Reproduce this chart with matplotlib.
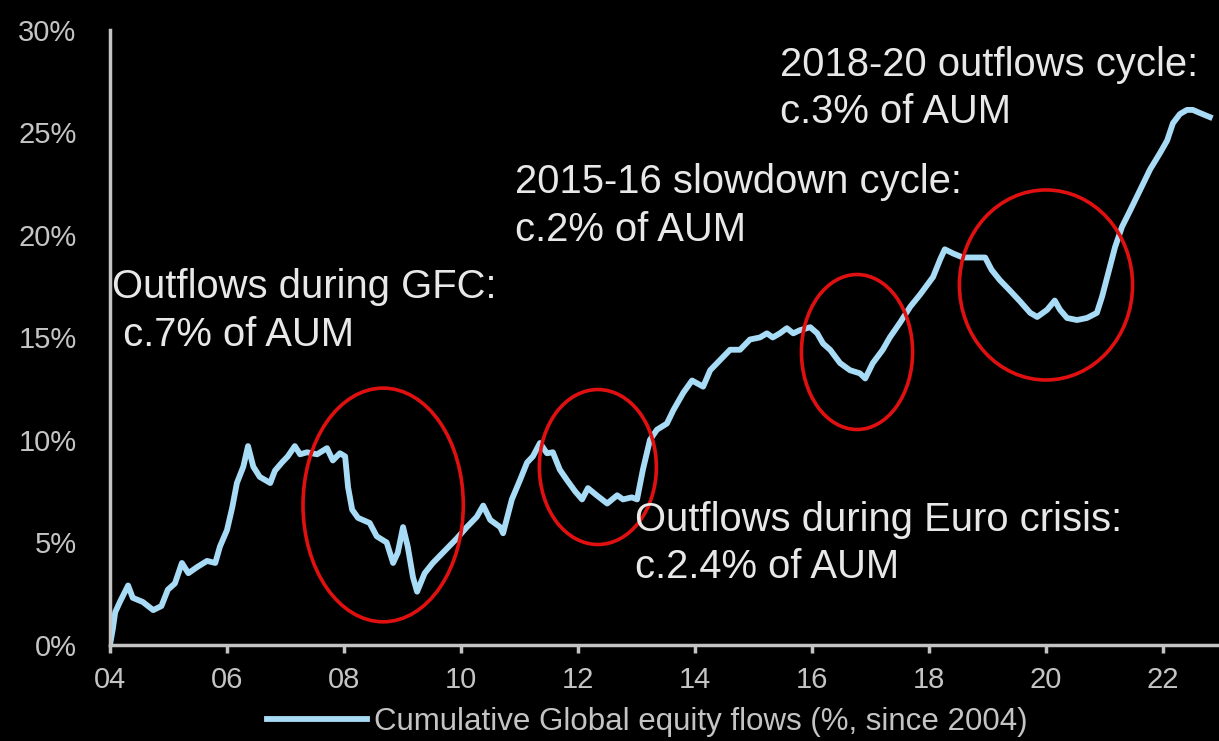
import matplotlib.pyplot as plt
from matplotlib.patches import Ellipse

# cumulative global equity flows, % of AUM since 2004
years = [2004.00, 2004.05, 2004.09, 2004.17, 2004.31, 2004.39, 2004.56, 2004.74, 2004.88, 2004.99,
         2005.11, 2005.23, 2005.34, 2005.49, 2005.66, 2005.80, 2005.88, 2006.00, 2006.09, 2006.17,
         2006.28, 2006.36, 2006.45, 2006.56, 2006.74, 2006.82, 2006.94, 2007.04, 2007.16, 2007.25,
         2007.37, 2007.54, 2007.71, 2007.81, 2007.93, 2008.02, 2008.07, 2008.14, 2008.24, 2008.44,
         2008.56, 2008.73, 2008.84, 2008.92, 2009.01, 2009.09, 2009.18, 2009.25, 2009.38, 2009.52,
         2009.69, 2009.93, 2010.10, 2010.27, 2010.38, 2010.50, 2010.67, 2010.72, 2010.87, 2011.01,
         2011.13, 2011.23, 2011.35, 2011.47, 2011.57, 2011.69, 2011.81, 2011.95, 2012.07, 2012.17,
         2012.32, 2012.50, 2012.67, 2012.77, 2012.92, 2013.01, 2013.11, 2013.23, 2013.35, 2013.52,
         2013.63, 2013.80, 2013.95, 2014.14, 2014.26, 2014.43, 2014.60, 2014.77, 2014.94, 2015.11,
         2015.23, 2015.33, 2015.45, 2015.57, 2015.68, 2015.79, 2015.97, 2016.09, 2016.19, 2016.31,
         2016.48, 2016.65, 2016.82, 2016.91, 2017.04, 2017.21, 2017.33, 2017.50, 2017.68, 2017.85,
         2018.07, 2018.19, 2018.27, 2018.41, 2018.58, 2018.75, 2018.96, 2019.07, 2019.21, 2019.38,
         2019.56, 2019.73, 2019.85, 2020.02, 2020.15, 2020.24, 2020.36, 2020.53, 2020.70, 2020.87,
         2020.96, 2021.06, 2021.18, 2021.30, 2021.44, 2021.61, 2021.78, 2021.95, 2022.07, 2022.17,
         2022.29, 2022.41, 2022.51, 2022.63, 2022.80]
flows = [0.0, 0.8, 1.6, 2.1, 2.9, 2.3, 2.1, 1.7, 1.9, 2.7,
         3.0, 4.0, 3.5, 3.8, 4.1, 4.0, 4.8, 5.6, 6.7, 7.9,
         8.7, 9.7, 8.7, 8.2, 7.9, 8.5, 8.9, 9.2, 9.7, 9.3,
         9.4, 9.3, 9.6, 9.0, 9.35, 9.2, 7.7, 6.6, 6.2, 5.95,
         5.3, 5.0, 4.0, 4.5, 5.75, 4.8, 3.3, 2.6, 3.5, 4.0,
         4.5, 5.2, 5.75, 6.25, 6.8, 6.1, 5.75, 5.45, 7.1, 8.05,
         8.9, 9.2, 9.85, 9.35, 9.4, 8.55, 8.05, 7.5, 7.1, 7.65,
         7.3, 6.9, 7.3, 7.1, 7.2, 7.1, 8.55, 10.0, 10.5, 10.8,
         11.45, 12.3, 12.9, 12.6, 13.4, 13.9, 14.4, 14.4, 14.9, 15.0,
         15.2, 15.0, 15.2, 15.45, 15.2, 15.35, 15.5, 15.2, 14.7, 14.4,
         13.75, 13.4, 13.25, 13.0, 13.75, 14.4, 15.0, 15.7, 16.5, 17.1,
         17.95, 18.8, 19.3, 19.1, 18.9, 18.9, 18.9, 18.3, 17.8, 17.3,
         16.75, 16.2, 16.0, 16.35, 16.8, 16.35, 15.95, 15.85, 15.95, 16.2,
         17.0, 18.1, 19.4, 20.4, 21.2, 22.2, 23.2, 24.0, 24.6, 25.45,
         25.9, 26.1, 26.1, 25.95, 25.75]

tick_years = [2004, 2006, 2008, 2010, 2012, 2014, 2016, 2018, 2020, 2022]
tick_labels = ['04', '06', '08', '10', '12', '14', '16', '18', '20', '22']
y_ticks = [0, 5, 10, 15, 20, 25, 30]

# circled episodes: centre year, centre %, width (years), height (%)
circles = [(2008.67, 6.83, 2.74, 11.4),
           (2012.34, 8.68, 2.00, 7.56),
           (2016.77, 14.29, 1.90, 7.56),
           (2020.00, 17.56, 2.96, 9.27)]

notes = [(2004.03, 16.3, 'Outflows during GFC:\n c.7% of AUM'),
         (2010.92, 21.4, '2015-16 slowdown cycle:\nc.2% of AUM'),
         (2015.45, 27.15, '2018-20 outflows cycle:\nc.3% of AUM'),
         (2012.97, 4.95, 'Outflows during Euro crisis:\nc.2.4% of AUM')]

plt.rcParams['font.family'] = ['Liberation Sans', 'DejaVu Sans']

fig = plt.figure(figsize=(12.19, 7.41), dpi=100, facecolor='black')
ax = fig.add_axes([0.0902, 0.1296, 0.908, 0.830], facecolor='black')

ax.plot(years, flows, color='#a8dcf6', lw=4.2, solid_joinstyle='round',
        label='Cumulative Global equity flows (%, since 2004)')

for cx, cy, w, h in circles:
    ax.add_patch(Ellipse((cx, cy), w, h, fill=False, edgecolor='#e01010', lw=2.6, zorder=4))

for x, y, s in notes:
    ax.text(x, y, s, color='#e8e8e8', fontsize=28.8, ha='left', va='center',
            linespacing=1.32, zorder=5)

ax.set_xlim(2004, 2022.92)
ax.set_ylim(0, 30)
ax.set_xticks(tick_years)
ax.set_xticklabels(tick_labels)
ax.set_yticks(y_ticks)
ax.set_yticklabels([str(v) + '%' for v in y_ticks])

for side in ['top', 'right']:
    ax.spines[side].set_visible(False)
for side in ['left', 'bottom']:
    ax.spines[side].set_color('#c4c4c4')
    ax.spines[side].set_linewidth(2.5)

ax.tick_params(axis='x', colors='#c4c4c4', labelsize=21, length=6, width=2.5, pad=9)
ax.tick_params(axis='y', colors='#c4c4c4', labelsize=21, length=0, pad=24)

leg = ax.legend(loc='center', bbox_to_anchor=(0.531, 0.026), bbox_transform=fig.transFigure,
                frameon=False, fontsize=22.5, handlelength=3.2, handletextpad=0.25)
for t in leg.get_texts():
    t.set_color('#c4c4c4')

fig.savefig('out.png', dpi=100, facecolor='black')
